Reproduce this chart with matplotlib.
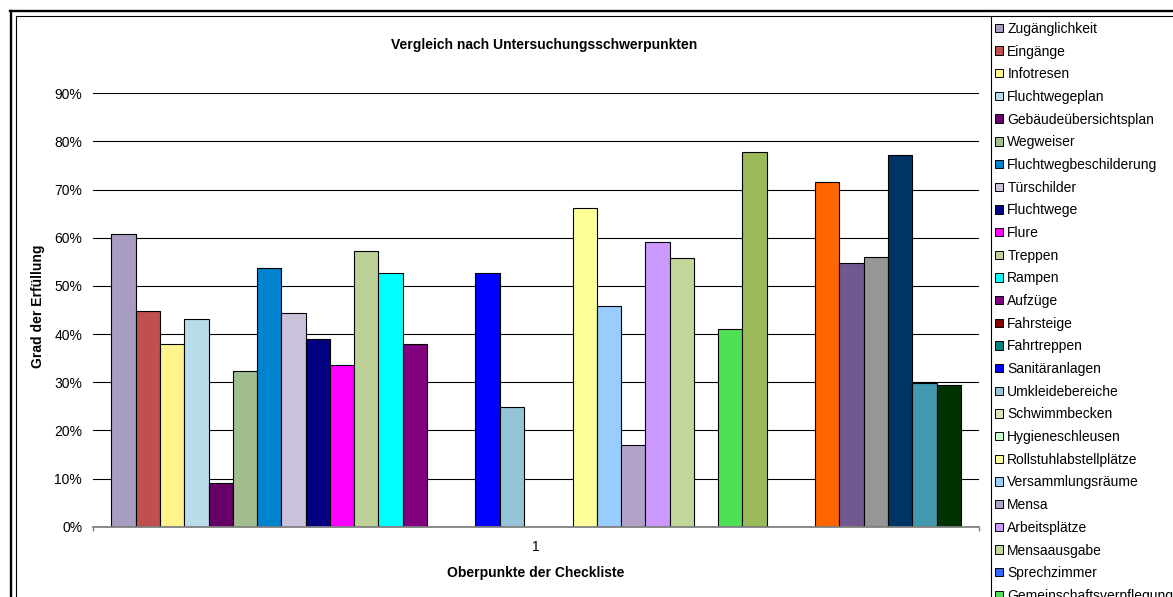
import numpy as np
import matplotlib.pyplot as plt
from matplotlib.patches import Patch
from matplotlib.lines import Line2D
from matplotlib.ticker import PercentFormatter, FixedLocator

plt.rcParams['font.family'] = ['Liberation Sans', 'DejaVu Sans']

# legend names that can be read in the picture (the rest is cut off)
series_names = ["Zugänglichkeit", "Eingänge", "Infotresen", "Fluchtwegeplan",
                "Gebäudeübersichtsplan", "Wegweiser", "Fluchtwegbeschilderung",
                "Türschilder", "Fluchtwege", "Flure", "Treppen", "Rampen", "Aufzüge",
                "Fahrsteige", "Fahrtreppen", "Sanitäranlagen", "Umkleidebereiche",
                "Schwimmbecken", "Hygieneschleusen", "Rollstuhlabstellplätze",
                "Versammlungsräume", "Mensa", "Arbeitsplätze", "Mensaausgabe",
                "Sprechzimmer", "Gemeinschaftsverpflegung"]

# Grad der Erfüllung per series (35 bars in the one category "1")
values = [0.608, 0.447, 0.380, 0.431, 0.090, 0.324, 0.538, 0.443, 0.389, 0.335,
          0.573, 0.526, 0.380, 0.0, 0.0, 0.526, 0.249, 0.0, 0.0, 0.662,
          0.458, 0.170, 0.591, 0.557, 0.0, 0.410, 0.778, 0.0, 0.0, 0.715,
          0.547, 0.560, 0.772, 0.298, 0.294]

colors = ['#A99CC2', '#C0504D', '#FFF48C', '#B7DEE8', '#660066', '#A3BE8E',
          '#0083CF', '#CCC1DA', '#000080', '#FF00FF', '#BCD098', '#00FFFF',
          '#800080', '#800000', '#008080', '#0000FF', '#95C4D6', '#D8E4BC',
          '#CCFFCC', '#FFFF99', '#99CCFF', '#B3A2C7', '#CC99FF', '#C4D79B',
          '#3366FF', '#4FE155', '#9BBB59', '#FFCC99', '#CCCCFF', '#FF6600',
          '#71588F', '#969696', '#003366', '#4299B0', '#003300']

category = "1"
title = "Vergleich nach Untersuchungsschwerpunkten"
xlabel = "Oberpunkte der Checkliste"
ylabel = "Grad der Erfüllung"

W, H = 1173, 597
fig = plt.figure(figsize=(W / 100, H / 100), dpi=100)

# plot area in pixels
left, right, top, bottom = 93.3, 979, 93.3, 526.7
ax = fig.add_axes([left / W, 1 - bottom / H, (right - left) / W, (bottom - top) / H])

n = len(values)
pos = np.arange(n) - (n - 1) / 2
bars = ax.bar(pos, values, width=1.0, color=colors, edgecolor='black', linewidth=0.8, zorder=3)

half = n / 2 + 0.75  # gap width 150 %
ax.set_xlim(-half, half)
ax.set_ylim(0, 0.9)
ax.yaxis.set_major_locator(FixedLocator(np.arange(0, 0.91, 0.1)))
ax.yaxis.set_major_formatter(PercentFormatter(1.0, decimals=0))
ax.grid(axis='y', color='black', linewidth=0.8, zorder=0)
ax.tick_params(axis='y', length=0, pad=8, labelsize=10)

ax.set_xticks([0])
ax.set_xticklabels([category])
ax.set_xticks([-half, half], minor=True)
ax.tick_params(axis='x', which='major', length=0, pad=9.5, labelsize=10)
ax.tick_params(axis='x', which='minor', length=3, color='#808080', width=1, direction='out')

for s in ['top', 'right', 'left']:
    ax.spines[s].set_visible(False)
ax.spines['bottom'].set_color('#808080')
ax.spines['bottom'].set_linewidth(1.3)
ax.spines['bottom'].set_zorder(4)

fig.text(544 / W, 1 - 45 / H, title, ha='center', va='center', fontsize=10, fontweight='bold')
fig.text(536 / W, 1 - 573 / H, xlabel, ha='center', va='center', fontsize=10, fontweight='bold')
fig.text(38 / W, 1 - 306 / H, ylabel, ha='center', va='center', rotation=90,
         fontsize=10, fontweight='bold')

# legend (runs off the bottom and right of the picture)
handles = [Patch(facecolor=colors[i], edgecolor='black', linewidth=0.7)
           for i in range(len(series_names))]
leg = fig.legend(handles, series_names, loc='upper left',
                 bbox_to_anchor=(990 / W, 1 - 17 / H), fontsize=10,
                 frameon=False, handlelength=0.55, handleheight=0.55,
                 handletextpad=0.35, labelspacing=0.625, borderpad=0.35,
                 borderaxespad=0)
fig.add_artist(Line2D([990.5 / W, 990.5 / W], [0, 1 - 15.5 / H], color='black', linewidth=0.8))

# double outer frame of the chart
fig.add_artist(Line2D([9.5 / W, 1], [1 - 11 / H, 1 - 11 / H], color='black', linewidth=1.7))
fig.add_artist(Line2D([10.5 / W, 10.5 / W], [0, 1 - 11 / H], color='black', linewidth=1.7))
fig.add_artist(Line2D([15.5 / W, 1], [1 - 15.5 / H, 1 - 15.5 / H], color='black', linewidth=0.8))
fig.add_artist(Line2D([15.5 / W, 15.5 / W], [0, 1 - 15.5 / H], color='black', linewidth=0.8))

fig.savefig('out.png', dpi=100)
